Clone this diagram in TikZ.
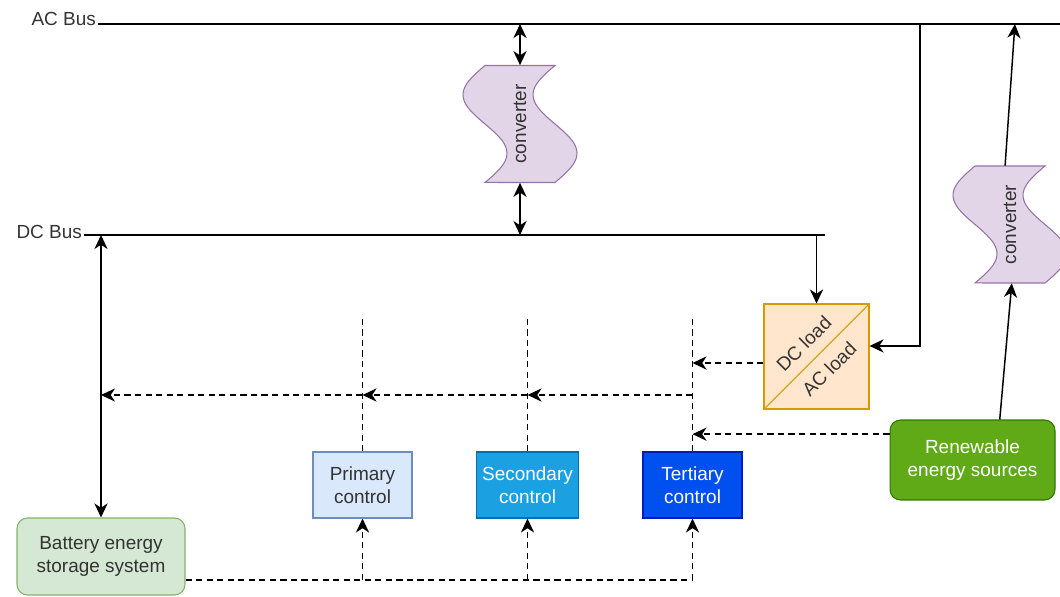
\documentclass[tikz,border=0pt]{standalone}
\usepackage{fontspec}
\setmainfont{Liberation Sans}
\usetikzlibrary{arrows.meta,positioning}

\definecolor{txtgray}{HTML}{333333}
\definecolor{convfill}{HTML}{E1D5E7}
\definecolor{convline}{HTML}{9673A6}
\definecolor{loadfill}{HTML}{FFE6CC}
\definecolor{loadline}{HTML}{D79B00}
\definecolor{bessfill}{HTML}{D5E8D4}
\definecolor{bessline}{HTML}{82B366}
\definecolor{primfill}{HTML}{DAE8FC}
\definecolor{primline}{HTML}{6C8EBF}
\definecolor{secfill}{HTML}{1BA1E2}
\definecolor{secline}{HTML}{006EAF}
\definecolor{tertfill}{HTML}{0050EF}
\definecolor{tertline}{HTML}{001DBC}
\definecolor{resfill}{HTML}{60A917}
\definecolor{resline}{HTML}{2D7600}

\begin{document}
\begin{tikzpicture}[x=0.02cm,y=-0.02cm,
  font=\fontsize{10.8}{13}\selectfont, text=txtgray,
  >={Stealth[length=8pt,width=7.5pt,inset=2.5pt]},
  bus/.style={line width=1.6pt},
  link/.style={line width=0.85pt},
  ctl/.style={line width=0.85pt, dash pattern=on 3.5pt off 2.5pt},
  conv/.style={fill=convfill, draw=convline, line width=0.6pt},
  convtxt/.style={minimum width=1.4cm, minimum height=2.34cm, inner sep=0pt},
  ctlbox/.style={draw, line width=0.6pt, align=center, minimum width=1.98cm, minimum height=1.32cm},
  roundbox/.style={draw, line width=0.6pt, align=center, rounded corners=6pt}]
\useasboundingbox (0,0) rectangle (1060,597);

% buses
\coordinate (acend) at (1060,24);
\coordinate (dcend) at (825,235);
\node[anchor=east, inner sep=1pt] (aclbl) at (98,19) {AC Bus};
\node[anchor=east, inner sep=1pt] (dclbl) at (84,232) {DC Bus};
\draw[bus] (aclbl.east |- acend) -- (acend);
\draw[bus] (dclbl.east |- dcend) -- (dcend);

% converters
\coordinate (c1) at (520,124);
\coordinate (c2) at (1010,224.5);
\foreach \c in {c1,c2}
  \draw[conv, shift={(\c)}] plot[domain=0:1, samples=40] ({-35-22*sin(360*\x)},{-58.5+117*\x})
    -- plot[domain=1:0, samples=40] ({35-22*sin(360*\x)},{-58.5+117*\x}) -- cycle;
\node[convtxt] (conv1) at (c1) {\rotatebox{90}{converter}};
\node[convtxt] (conv2) at (c2) {\rotatebox{90}{converter}};
\draw[link,<->] (conv1.north |- acend) -- (conv1.north);
\draw[link,<->] (conv1.south) -- (conv1.south |- dcend);

% loads
\node[draw=loadline, fill=loadfill, line width=0.6pt, minimum size=2.1cm] (load) at (816.5,356.5) {};
\draw[loadline, line width=0.6pt] (load.south west) -- (load.north east)
  node[midway, sloped, above=5pt, text=txtgray, inner sep=1pt] (dcl) {DC load}
  node[midway, sloped, below=5pt, text=txtgray, inner sep=1pt] (acl) {AC load};
\coordinate (acdrop) at (920,24);
\draw[link,->] (load.north |- dcend) -- (load.north);
\draw[link,->] (acdrop) |- ([yshift=6pt]load.east);

% sources and storage
\node[roundbox, draw=resline, fill=resfill, text=white, minimum width=3.3cm, minimum height=1.6cm] (res) at (972.5,460) {Renewable\\energy sources};
\node[roundbox, draw=bessline, fill=bessfill, minimum width=3.36cm, minimum height=1.54cm] (bess) at (101,556.5) {Battery energy\\storage system};
\draw[link,->] ([xshift=15.5pt]res.north) -- ([xshift=1pt]conv2.south);
\draw[link,->] ([xshift=-2.8pt]conv2.north) -- ([xshift=2.8pt]conv2.north |- acend);
\draw[link,<->] (bess.north |- dcend) -- (bess.north);

% control levels
\node[ctlbox, draw=primline, fill=primfill] (prim) at (362.5,485) {Primary\\control};
\node[ctlbox, draw=secline, fill=secfill, text=white] (sec) at (527.5,485) {Secondary\\control};
\node[ctlbox, draw=tertline, fill=tertfill, text=white] (tert) at (692.5,485) {Tertiary\\control};
\foreach \c in {prim,sec,tert}
  \draw[ctl] (\c.north) -- ++(0,-134);

\coordinate (hl) at (0,395);
\draw[ctl,->] (hl -| tert.north) -- (hl -| sec.north);
\draw[ctl,->] (hl -| sec.north) -- (hl -| prim.north);
\draw[ctl,->] (hl -| prim.north) -- (hl -| bess.north);

\coordinate (ldout) at ([yshift=-3.7pt]load.west);
\coordinate (resout) at ([yshift=14.7pt]res.west);
\draw[ctl,->] (ldout) -- (ldout -| tert.north);
\draw[ctl,->] (resout) -- (resout -| tert.north);

\coordinate (bout) at ([yshift=-13.3pt]bess.east);
\draw[ctl] (bout) -- (bout -| tert.south);
\foreach \c in {prim,sec,tert}
  \draw[ctl,->] (bout -| \c.south) -- (\c.south);
\end{tikzpicture}
\end{document}
